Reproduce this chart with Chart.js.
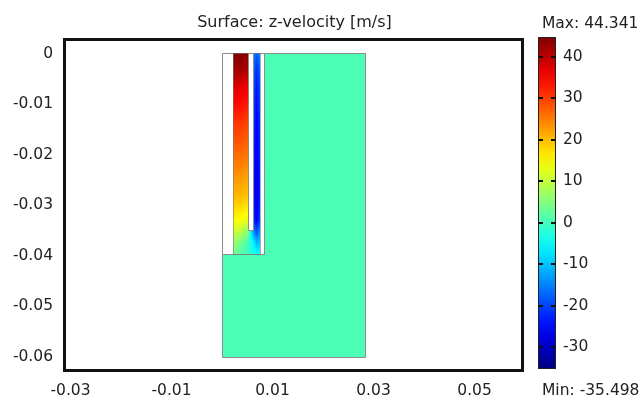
<!DOCTYPE html>
<html>
<head>
<meta charset="utf-8">
<script src="https://cdn.jsdelivr.net/npm/chart.js@4.4.1/dist/chart.umd.min.js"></script>
<style>
    html, body { margin: 0; padding: 0; background: #fff; }
    #wrap { width: 644px; height: 397px; }
</style>
</head>
<body>
<div id="wrap"><canvas id="plot"></canvas></div>
<script>
// axis ticks
const xTickVals = [-0.03, -0.01, 0.01, 0.03, 0.05];
const yTickVals = [0, -0.01, -0.02, -0.03, -0.04, -0.05, -0.06];
const barTickVals = [-30, -20, -10, 0, 10, 20, 30, 40];
const xRange = [-0.03129, 0.0596];
const yRange = [-0.06267, 0.00287];
const zMin = -35.498;
const zMax = 44.341;

// geometry (m)
const domainX = [0.0083, 0.0283, 0.0283, 0, 0, 0.0083];
const domainY = [0, 0, -0.06, -0.06, -0.0398, -0.0398];
const domainValue = 0.2;
const cutoutX = [0, 0.0083, 0.0083, 0];
const cutoutY = [0, 0, -0.0398, -0.0398];
const wallX = [0.0051, 0.0062, 0.0062, 0.0051];
const wallY = [0, 0, -0.035, -0.035];

// z-velocity in the channel, sampled on a grid (m/s)
const gridX = [0.0021, 0.0036, 0.0051, 0.0062, 0.00685, 0.0075];
const gridY = [0, -0.003, -0.007, -0.014, -0.02, -0.028, -0.033, -0.035, -0.0375, -0.0398];
const gridZ = [
    [44.3, 44.3, 43, -14, -18, -15],
    [42, 42, 41, -17, -22, -18],
    [37, 36, 35, -19, -24, -20],
    [30, 30, 29, -21, -26, -22],
    [26, 26, 25, -22, -27, -23],
    [20, 20, 19, -23, -28, -24],
    [15, 14, 13, -21, -26, -21],
    [11, 10, 6, -15, -20, -15],
    [7, 4, 0, -6, -11, -10],
    [3, 1, -1, -3, -5, -5],
];

const FONT = "'DejaVu Sans', Verdana, sans-serif";
const EDGE = "#8c8c8c";

function clamp01(v) {
    return Math.max(0, Math.min(1, v));
}

function jet(z) {
    const f = clamp01((z - zMin) / (zMax - zMin));
    const r = clamp01(Math.min(4 * f - 1.5, -4 * f + 4.5));
    const g = clamp01(Math.min(4 * f - 0.5, -4 * f + 3.5));
    const b = clamp01(Math.min(4 * f + 0.5, -4 * f + 2.5));
    return [Math.round(r * 255), Math.round(g * 255), Math.round(b * 255)];
}

function locate(arr, v) {
    for (let i = 0; i < arr.length - 1; i++) {
        const a = arr[i], b = arr[i + 1];
        if ((v - a) * (v - b) <= 0) return [i, (v - a) / (b - a)];
    }
    const dir = Math.sign(arr[1] - arr[0]);
    return v * dir < arr[0] * dir ? [0, 0] : [arr.length - 2, 1];
}

function sampleField(x, y) {
    const [i, tx] = locate(gridX, x);
    const [j, ty] = locate(gridY, y);
    const z00 = gridZ[j][i], z01 = gridZ[j][i + 1];
    const z10 = gridZ[j + 1][i], z11 = gridZ[j + 1][i + 1];
    const top = z00 + (z01 - z00) * tx;
    const bot = z10 + (z11 - z10) * tx;
    return top + (bot - top) * ty;
}

function polyPath(ctx, sx, sy, xs, ys) {
    ctx.beginPath();
    xs.forEach((x, k) => {
        const px = Math.round(sx.getPixelForValue(x)) + 0.5;
        const py = Math.round(sy.getPixelForValue(ys[k])) + 0.5;
        if (k === 0) ctx.moveTo(px, py);
        else ctx.lineTo(px, py);
    });
    ctx.closePath();
}

const surfacePlugin = {
    id: "surface",
    beforeDatasetsDraw(chart) {
        const { ctx, scales } = chart;
        const sx = scales.x, sy = scales.y;
        ctx.save();
        ctx.lineWidth = 1;
        ctx.strokeStyle = EDGE;

        // main domain
        const dc = jet(domainValue);
        polyPath(ctx, sx, sy, domainX, domainY);
        ctx.fillStyle = `rgb(${dc[0]},${dc[1]},${dc[2]})`;
        ctx.fill();
        ctx.stroke();

        // cut-out region
        polyPath(ctx, sx, sy, cutoutX, cutoutY);
        ctx.fillStyle = "#fff";
        ctx.fill();
        ctx.stroke();

        // flow channel field
        const x0 = Math.round(sx.getPixelForValue(gridX[0]));
        const x1 = Math.round(sx.getPixelForValue(gridX[gridX.length - 1]));
        const y0 = Math.round(sy.getPixelForValue(gridY[0]));
        const y1 = Math.round(sy.getPixelForValue(gridY[gridY.length - 1]));
        const w = x1 - x0, h = y1 - y0;
        const off = document.createElement("canvas");
        off.width = w;
        off.height = h;
        const octx = off.getContext("2d");
        const img = octx.createImageData(w, h);
        for (let py = 0; py < h; py++) {
            const yv = sy.getValueForPixel(y0 + py + 0.5);
            for (let px = 0; px < w; px++) {
                const xv = sx.getValueForPixel(x0 + px + 0.5);
                const c = jet(sampleField(xv, yv));
                const k = (py * w + px) * 4;
                img.data[k] = c[0];
                img.data[k + 1] = c[1];
                img.data[k + 2] = c[2];
                img.data[k + 3] = 255;
            }
        }
        octx.putImageData(img, 0, 0);
        ctx.drawImage(off, x0, y0);
        ctx.strokeStyle = "rgba(120,120,120,0.6)";
        ctx.strokeRect(x0 + 0.5, y0 + 0.5, w, h);

        // separating wall
        ctx.strokeStyle = EDGE;
        polyPath(ctx, sx, sy, wallX, wallY);
        ctx.fillStyle = "#fff";
        ctx.fill();
        ctx.stroke();
        ctx.restore();
    },
    afterDraw(chart) {
        const { ctx, chartArea, scales } = chart;
        const c = scales.c;
        ctx.save();

        // plot frame
        ctx.lineWidth = 3;
        ctx.strokeStyle = "#111";
        ctx.strokeRect(chartArea.left + 0.5, chartArea.top + 0.5,
            chartArea.right - chartArea.left - 1, chartArea.bottom - chartArea.top);

        // title
        ctx.fillStyle = "#222";
        ctx.font = `16px ${FONT}`;
        ctx.textAlign = "center";
        ctx.textBaseline = "alphabetic";
        ctx.fillText("Surface: z-velocity [m/s]", (chartArea.left + chartArea.right) / 2 + 1, 27);

        // colour bar
        const bx0 = c.left + 15, bx1 = c.left + 33;
        const byTop = c.getPixelForValue(zMax) - 2;
        const byBot = c.getPixelForValue(zMin) - 1;
        const grad = ctx.createLinearGradient(0, byBot, 0, byTop);
        for (let s = 0; s <= 20; s++) {
            const col = jet(zMin + (zMax - zMin) * s / 20);
            grad.addColorStop(s / 20, `rgb(${col[0]},${col[1]},${col[2]})`);
        }
        ctx.fillStyle = grad;
        ctx.fillRect(bx0, byTop, bx1 - bx0, byBot - byTop);
        ctx.lineWidth = 1;
        ctx.strokeStyle = "#222";
        ctx.strokeRect(bx0 + 0.5, byTop + 0.5, bx1 - bx0 - 1, byBot - byTop - 1);
        ctx.lineWidth = 2;
        ctx.strokeStyle = "#111";
        barTickVals.forEach((v) => {
            const py = Math.round(c.getPixelForValue(v));
            ctx.beginPath();
            ctx.moveTo(bx0, py);
            ctx.lineTo(bx0 + 5, py);
            ctx.moveTo(bx1 - 5, py);
            ctx.lineTo(bx1, py);
            ctx.stroke();
        });

        ctx.fillStyle = "#222";
        ctx.font = `15.5px ${FONT}`;
        ctx.textAlign = "left";
        ctx.fillText("Max: " + zMax.toFixed(3), bx0 + 4, 28);
        ctx.fillText("Min: " + zMin.toFixed(3), bx0 + 4, 395);
        ctx.restore();
    },
};

const tickFont = { family: FONT, size: 15.5 };

new Chart(document.getElementById("plot"), {
    type: "scatter",
    data: { datasets: [] },
    options: {
        responsive: true,
        maintainAspectRatio: false,
        animation: false,
        events: [],
        layout: { padding: { top: 39, left: 0, right: 0, bottom: 0 } },
        plugins: { legend: { display: false }, tooltip: { enabled: false } },
        scales: {
            x: {
                type: "linear",
                min: xRange[0],
                max: xRange[1],
                grid: { display: false, drawTicks: false },
                border: { display: false },
                afterBuildTicks: (s) => { s.ticks = xTickVals.map((v) => ({ value: v })); },
                afterFit: (s) => { s.height = 27; },
                ticks: { font: tickFont, color: "#222", padding: 12, maxRotation: 0, callback: (v) => String(v) },
            },
            y: {
                type: "linear",
                min: yRange[0],
                max: yRange[1],
                grid: { display: false, drawTicks: false },
                border: { display: false },
                afterBuildTicks: (s) => { s.ticks = yTickVals.map((v) => ({ value: v })); },
                afterFit: (s) => { s.width = 64; },
                ticks: { font: tickFont, color: "#222", padding: 11, callback: (v) => String(v) },
            },
            c: {
                type: "linear",
                axis: "y",
                position: "right",
                min: zMin,
                max: zMax,
                grid: { display: false, drawTicks: true, tickLength: 37 },
                border: { display: false },
                afterBuildTicks: (s) => { s.ticks = barTickVals.map((v) => ({ value: v })); },
                afterFit: (s) => { s.width = 121; },
                ticks: { font: tickFont, color: "#222", padding: 3, callback: (v) => String(v) },
            },
        },
    },
    plugins: [surfacePlugin],
});
</script>
</body>
</html>
